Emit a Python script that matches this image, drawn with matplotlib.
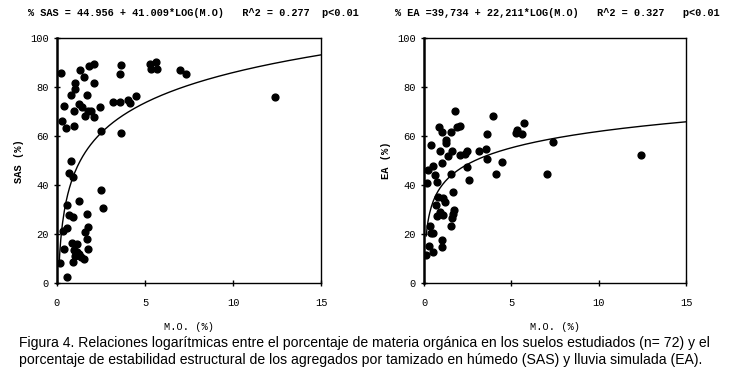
import numpy as np
import matplotlib
matplotlib.use("Agg")
import matplotlib.pyplot as plt

# materia organica (%) y SAS (%)
mo_sas = [0.21, 1.84, 2.10, 1.29, 1.52, 1.02, 1.02, 2.10, 3.64, 3.56, 5.27, 5.61, 5.32, 5.70,
          6.99, 7.31, 0.81, 1.69, 0.40, 1.27, 1.40, 0.98, 1.78, 1.91, 1.57, 2.10, 2.44, 3.18,
          3.58, 4.03, 4.15, 4.49, 0.28, 0.51, 0.97, 2.50, 3.64, 12.35,
          0.78, 0.70, 0.89, 2.50, 2.59, 1.25, 0.59, 0.70, 0.89, 1.70, 0.36, 0.55, 1.74, 1.59,
          1.70, 1.74, 0.41, 0.83, 1.14, 0.97, 1.14, 1.27, 1.00, 0.91, 1.55, 0.17, 0.59, 1.35]
sas = [85.6, 88.6, 89.4, 86.9, 84.2, 81.8, 79.3, 81.8, 88.9, 85.2, 89.4, 90.2, 87.6, 87.5,
       87.1, 85.4, 76.9, 76.9, 72.5, 73.1, 71.7, 70.2, 70.3, 70.1, 68.3, 67.8, 71.8, 74.0,
       73.8, 74.8, 73.6, 76.4, 66.3, 63.4, 64.0, 62.3, 61.3, 75.9,
       49.9, 44.8, 43.4, 38.1, 30.7, 33.7, 31.8, 28.0, 27.1, 28.4, 21.2, 22.4, 23.1, 20.9,
       18.1, 14.0, 13.8, 16.5, 15.9, 13.5, 12.9, 11.8, 11.0, 8.7, 9.8, 8.2, 2.6, 10.7]

# materia organica (%) y EA (%)
mo_ea = [1.77, 0.86, 1.01, 1.53, 1.87, 2.06, 1.24, 1.26, 0.38, 0.92, 1.62, 1.39, 2.06, 2.36,
         2.48, 3.13, 3.55, 3.61, 3.95, 5.27, 5.34, 5.61, 5.72, 7.37, 7.02, 12.42,
         3.59, 2.44, 4.45, 4.12, 0.25, 0.48, 0.63, 0.76, 0.15, 1.01, 1.53, 2.58, 1.68, 0.82,
         1.07, 1.20, 0.69, 0.92, 1.10, 0.73, 1.72, 1.68, 1.59, 1.55, 0.34, 0.38, 0.53, 0.29,
         1.03, 1.03, 0.53, 0.10]
ea = [70.2, 63.8, 61.5, 61.5, 63.8, 64.2, 58.4, 57.3, 56.2, 53.8, 53.8, 52.0, 52.1, 52.7,
      54.0, 54.0, 54.8, 60.9, 68.3, 61.1, 62.7, 60.7, 65.4, 57.8, 44.6, 52.4,
      50.6, 47.5, 49.3, 44.5, 46.1, 47.8, 44.1, 41.3, 40.7, 48.9, 44.5, 42.0, 37.3, 35.2,
      34.6, 33.2, 31.8, 29.1, 27.8, 27.4, 29.8, 28.4, 26.4, 23.3, 23.3, 20.5, 20.5, 15.1,
      17.6, 14.6, 12.5, 11.4]

# coeficientes de las curvas logaritmicas
sas_a, sas_b = 44.956, 41.009
ea_a, ea_b = 39.734, 22.211

mono = "Liberation Mono"

fig = plt.figure(figsize=(7.3, 3.74), dpi=100)
ax1 = fig.add_axes([0.078, 0.243, 0.362, 0.655])
ax2 = fig.add_axes([0.581, 0.243, 0.359, 0.655])

xc = np.linspace(0.12, 15, 300)

def panel(ax, x, y, a, b, ylab):
    ax.scatter(x, y, s=24, color="black", zorder=3)
    ax.plot(xc, a + b * np.log10(xc), color="black", lw=1)
    ax.set_xlim(0, 15)
    ax.set_ylim(0, 100)
    ax.set_xticks([0, 5, 10, 15])
    ax.set_yticks([0, 20, 40, 60, 80, 100])
    ax.tick_params(direction="inout", length=5, labelsize=7.5, width=1)
    ax.tick_params(axis="x", pad=8)
    for lab in ax.get_xticklabels() + ax.get_yticklabels():
        lab.set_fontfamily(mono)
    for s in ax.spines.values():
        s.set_linewidth(1)
    ax.spines["left"].set_linewidth(1.8)
    ax.set_xlabel("M.O. (%)", fontfamily=mono, fontsize=7.5, labelpad=10)
    ax.set_ylabel(ylab, fontfamily=mono, fontsize=7.5, fontweight="bold", labelpad=4)

panel(ax1, mo_sas, sas, sas_a, sas_b, "SAS (%)")
panel(ax2, mo_ea, ea, ea_a, ea_b, "EA (%)")

fig.text(0.038, 0.965, "% SAS = 44.956 + 41.009*LOG(M.O)   R^2 = 0.277  p<0.01",
         fontfamily=mono, fontsize=7.4, fontweight="bold", va="center")
fig.text(0.541, 0.965, "% EA =39,734 + 22,211*LOG(M.O)   R^2 = 0.327   p<0.01",
         fontfamily=mono, fontsize=7.4, fontweight="bold", va="center")

fig.text(0.026, 0.06,
         "Figura 4. Relaciones logarítmicas entre el porcentaje de materia orgánica en los suelos estudiados (n= 72) y el\n"
         "porcentaje de estabilidad estructural de los agregados por tamizado en húmedo (SAS) y lluvia simulada (EA).",
         fontfamily="Liberation Sans", fontsize=10.1, va="center", linespacing=1.2)

fig.savefig("out.png", dpi=100)
